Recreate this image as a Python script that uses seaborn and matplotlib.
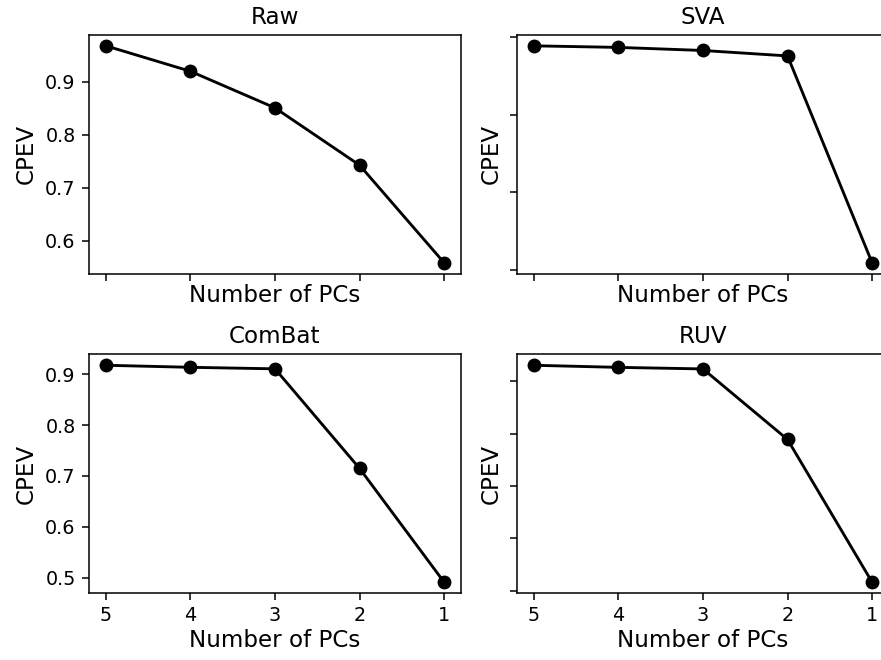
import matplotlib
matplotlib.use("Agg")
import matplotlib.pyplot as plt
import seaborn as sns
import pandas as pd

pcs = [5, 4, 3, 2, 1]
raw = [0.968, 0.920, 0.851, 0.743, 0.559]
sva = [0.889, 0.887, 0.883, 0.876, 0.609]
combat = [0.918, 0.914, 0.911, 0.715, 0.491]
ruv = [0.931, 0.927, 0.924, 0.789, 0.516]
titles = ["Raw", "SVA", "ComBat", "RUV"]
series = [raw, sva, combat, ruv]

dpi = 881 / 6.4
fig, axes = plt.subplots(2, 2, figsize=(6.4, 660 / dpi), dpi=dpi)
fig.subplots_adjust(left=89 / 881, right=889 / 881, top=1 - 35 / 660,
                    bottom=1 - 593 / 660, wspace=56 / 372, hspace=81 / 239)

for ax, title, vals in zip(axes.flat, titles, series):
    df = pd.DataFrame({"pcs": pcs, "cpev": vals})
    sns.lineplot(data=df, x="pcs", y="cpev", ax=ax, color="black", marker="o",
                 markersize=6.5, markeredgecolor="black", linewidth=1.5)
    ax.set_title(title, fontsize=12)
    ax.set_xlabel("Number of PCs", fontsize=12, labelpad=2)
    ax.set_ylabel("CPEV", fontsize=12)
    ax.set_xticks(pcs)
    ax.invert_xaxis()
    ax.tick_params(labelsize=10)

for ax in axes[0, :]:
    ax.tick_params(labelbottom=False)
for ax in axes[:, 1]:
    ax.tick_params(labelleft=False)

fig.savefig("out.png", dpi=dpi)
